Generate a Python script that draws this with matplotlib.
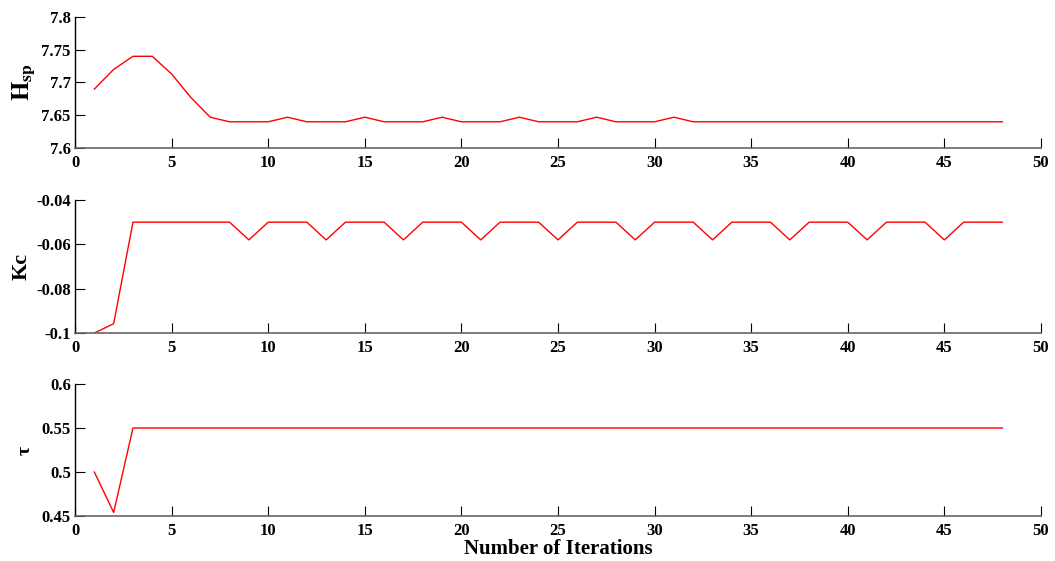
import matplotlib
matplotlib.use("Agg")
import matplotlib.pyplot as plt

# iteration index
iterations = list(range(1, 49))

# H_sp per iteration
hsp = [7.69, 7.72, 7.74, 7.74, 7.713, 7.677, 7.647, 7.64, 7.64, 7.64,
       7.647, 7.64, 7.64, 7.64, 7.647, 7.64, 7.64, 7.64, 7.647, 7.64,
       7.64, 7.64, 7.647, 7.64, 7.64, 7.64, 7.647, 7.64, 7.64, 7.64,
       7.647, 7.64, 7.64, 7.64, 7.64, 7.64, 7.64, 7.64, 7.64, 7.64,
       7.64, 7.64, 7.64, 7.64, 7.64, 7.64, 7.64, 7.64]

# Kc per iteration
kc = [-0.1, -0.0958, -0.05, -0.05, -0.05, -0.05, -0.05, -0.05, -0.058, -0.05,
      -0.05, -0.05, -0.058, -0.05, -0.05, -0.05, -0.058, -0.05, -0.05, -0.05,
      -0.058, -0.05, -0.05, -0.05, -0.058, -0.05, -0.05, -0.05, -0.058, -0.05,
      -0.05, -0.05, -0.058, -0.05, -0.05, -0.05, -0.058, -0.05, -0.05, -0.05,
      -0.058, -0.05, -0.05, -0.05, -0.058, -0.05, -0.05, -0.05]

# tau per iteration
tau = [0.5, 0.454] + [0.55] * 46

x_ticks = [0, 5, 10, 15, 20, 25, 30, 35, 40, 45, 50]
hsp_ticks = [7.6, 7.65, 7.7, 7.75, 7.8]
hsp_labels = ["7.6", "7.65", "7.7", "7.75", "7.8"]
kc_ticks = [-0.1, -0.08, -0.06, -0.04]
kc_labels = ["-0.1", "-0.08", "-0.06", "-0.04"]
tau_ticks = [0.45, 0.5, 0.55, 0.6]
tau_labels = ["0.45", "0.5", "0.55", "0.6"]

plt.rcParams["font.family"] = ["Liberation Serif", "DejaVu Serif"]
plt.rcParams["font.weight"] = "bold"
plt.rcParams["mathtext.fontset"] = "stix"

fig = plt.figure(figsize=(10.55, 5.61), dpi=100)

# rect, data, ticks, tick labels, y label, label size, label x position
panels = [
    ([0.0711, 0.7362, 0.9156, 0.2335], hsp, hsp_ticks, hsp_labels, r"$\mathbf{H}_{\mathbf{sp}}$", 18, -0.038),
    ([0.0711, 0.4064, 0.9156, 0.2371], kc, kc_ticks, kc_labels, "Kc", 16, -0.045),
    ([0.0711, 0.0802, 0.9156, 0.2353], tau, tau_ticks, tau_labels, "τ", 14, -0.043),
]

for rect, values, yt, ylabels, name, size, lx in panels:
    ax = fig.add_axes(rect)
    ax.plot(iterations, values, color="red", linewidth=1.0)
    ax.set_xlim(0, 50)
    ax.set_ylim(yt[0], yt[-1])
    ax.set_xticks(x_ticks)
    ax.set_xticklabels([str(t) for t in x_ticks])
    ax.set_yticks(yt)
    ax.set_yticklabels(ylabels)
    ax.spines["top"].set_visible(False)
    ax.spines["right"].set_visible(False)
    ax.spines["bottom"].set_color("#666666")
    ax.spines["bottom"].set_linewidth(1.2)
    ax.spines["left"].set_linewidth(1.0)
    ax.tick_params(direction="in", length=7, width=0.8, labelsize=12)
    ax.tick_params(axis="x", pad=5)
    ax.tick_params(axis="y", pad=3)
    for lab in ax.get_xticklabels() + ax.get_yticklabels():
        lab.set_fontweight("bold")
    ax.set_ylabel(name, fontsize=size, fontweight="bold")
    ax.yaxis.set_label_coords(lx, 0.5)

ax.set_xlabel("Number of Iterations", fontsize=15, fontweight="bold", labelpad=0)

plt.savefig("out.png", dpi=100)
plt.close()
